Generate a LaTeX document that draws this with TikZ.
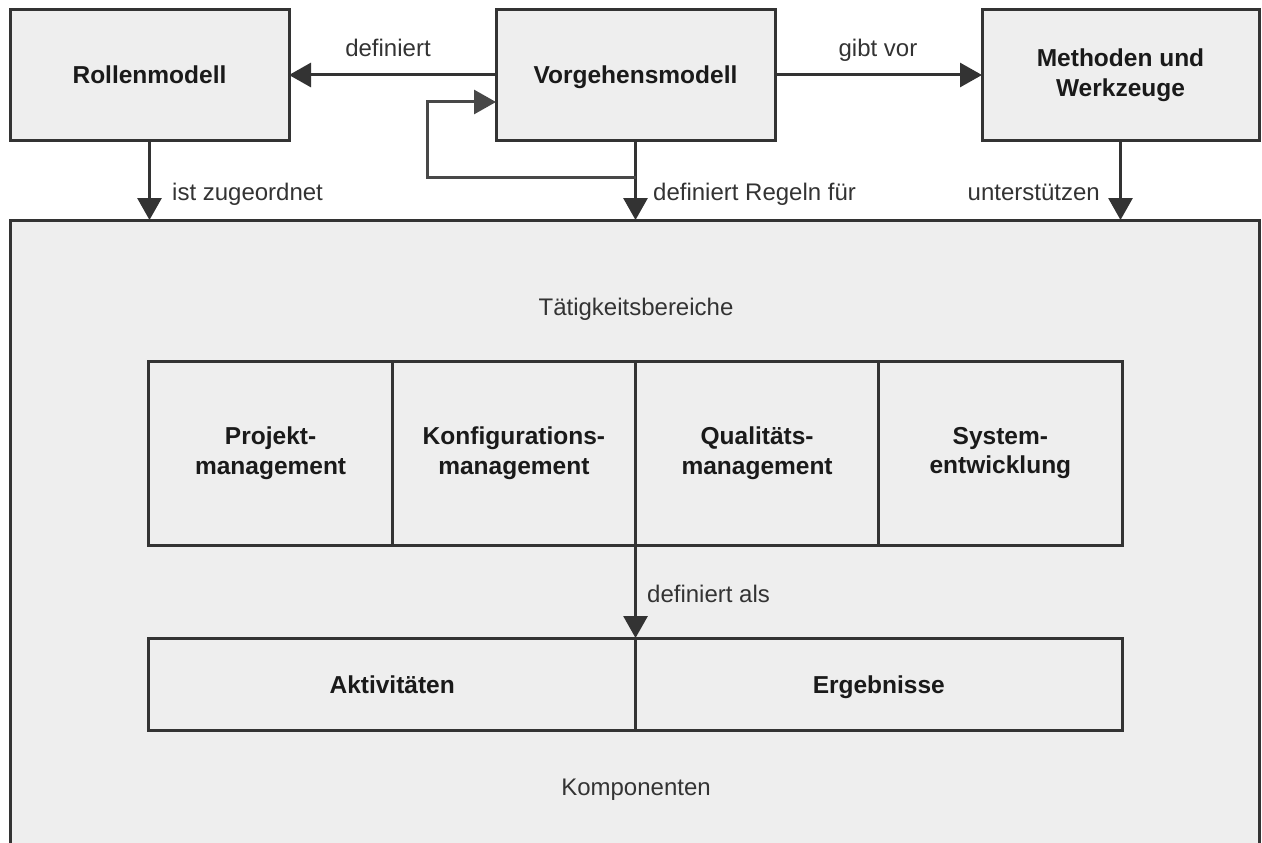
\documentclass[tikz,border=0pt]{standalone}
\usepackage{fontspec}
\setmainfont{Liberation Sans}
\usetikzlibrary{arrows.meta,calc}
\definecolor{linegray}{HTML}{333333}
\definecolor{loopgray}{HTML}{484848}
\definecolor{boxfill}{HTML}{EEEEEE}
\definecolor{labelgray}{HTML}{333333}
\definecolor{titleblack}{HTML}{1A1A1A}

\begin{document}
\begin{tikzpicture}[x=1pt,y=-1pt,
  box/.style={draw=linegray, fill=boxfill, line width=3pt, inner sep=0pt, outer sep=0pt,
    font=\fontsize{24.5}{29.5}\selectfont\bfseries, text=titleblack, align=center},
  oneline/.style={text height=18pt, text depth=0pt},
  arr/.style={draw=linegray, line width=3pt, -{Triangle[length=22pt,width=24pt]}},
  lbl/.style={font=\fontsize{24}{29}\selectfont, text=labelgray, inner sep=0pt},
]
\clip (0,0) rectangle (1262,843);
\useasboundingbox (0,0) rectangle (1262,843);

% top row
\node[box, oneline, minimum width=279pt, minimum height=130pt] (rollen) at (149.5,75) {Rollenmodell};
\node[box, oneline, minimum width=279pt, minimum height=130pt] (vorg) at (635.5,75) {Vorgehensmodell};
\node[box, minimum width=277pt, minimum height=130pt] (meth) at (1120.5,75) {Methoden und\\Werkzeuge};

% large container
\node[box, minimum width=1249pt, minimum height=650pt] (big) at (634.5,545) {};

% activity areas
\node[box, minimum width=243.25pt, minimum height=184pt] (pm) at (270.6,453) {Projekt-\\management};
\node[box, minimum width=243.25pt, minimum height=184pt] (km) at (513.9,453) {Konfigurations-\\management};
\node[box, minimum width=243.25pt, minimum height=184pt] (qm) at (757.1,453) {Qualitäts-\\management};
\node[box, minimum width=243.25pt, minimum height=184pt] (se) at (1000.4,453) {System-\\entwicklung};

% components
\node[box, oneline, minimum width=486.5pt, minimum height=92pt] (akt) at (392.2,684) {Aktivitäten};
\node[box, oneline, minimum width=486.5pt, minimum height=92pt] (erg) at (878.8,684) {Ergebnisse};

% connectors
\draw[arr] (vorg.west) -- (rollen.east);
\draw[arr] (vorg.east) -- (meth.west);
\draw[arr] (rollen.south) -- (rollen.south |- big.north);
\draw[arr] (vorg.south) -- (vorg.south |- big.north);
\draw[arr] (meth.south) -- (meth.south |- big.north);
\draw[arr] (km.south east) -- (km.south east |- akt.north);

% feedback loop into the process model
\coordinate (lp) at (427,177);
\coordinate (lq) at (427,102);
\draw[arr, draw=loopgray] (vorg.south |- lp) -- (lp) -- (lq) -- (vorg.west |- lq);

% labels
\node[lbl, anchor=base] (l1) at (388,57) {definiert};
\node[lbl, anchor=base] (l2) at (878,57) {gibt vor};
\node[lbl, anchor=base west] (l3) at (172,200) {ist zugeordnet};
\node[lbl, anchor=base west] (l4) at (653,200) {definiert Regeln für};
\node[lbl, anchor=base east] (l5) at (1100,200) {unterstützen};
\node[lbl, anchor=base] (l6) at (636,315) {Tätigkeitsbereiche};
\node[lbl, anchor=base west] (l7) at (647,602) {definiert als};
\node[lbl, anchor=base] (l8) at (636,795) {Komponenten};
\end{tikzpicture}
\end{document}
